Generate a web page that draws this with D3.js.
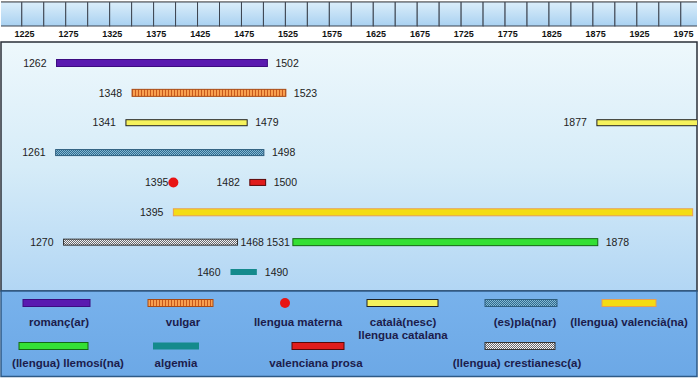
<!DOCTYPE html>
<html><head><meta charset="utf-8">
<script src="https://cdn.jsdelivr.net/npm/d3@7"></script>
<style>html,body{margin:0;padding:0;background:#fff;}svg{display:block;}</style>
</head><body>
<svg id="c" width="700" height="378"></svg>
<script>
// ---- data ----
const tickYears = [1225,1275,1325,1375,1425,1475,1525,1575,1625,1675,1725,1775,1825,1875,1925,1975];
const terms = ["romanç(ar)","vulgar","llengua materna","català(nesc)|llengua catalana","(es)pla(nar)","(llengua) valencià(na)","(llengua) llemosí(na)","algemia","valenciana prosa","(llengua) crestianesc(a)"];
const termKind = ["bar","bar","dot","bar","bar","bar","bar","bar","bar","bar"];
// spans: term index, row, start year, end year (end label hidden = still in use)
const spanTerm  = [0,1,3,3,4,2,8,5,9,6,7];
const spanRow   = [0,1,2,2,3,4,4,5,6,6,7];
const spanStart = [1262,1348,1341,1877,1261,1395,1482,1395,1270,1531,1460];
const spanEnd   = [1502,1523,1479,2010,1498,1395,1500,1986,1468,1878,1490];
const spanEndLabel = [true,true,true,false,true,false,true,false,true,true,true];

// ---- styles / layout ----
const W=700,H=378;
const svg=d3.select("#c");
const defs=svg.append("defs");
const x=d3.scaleLinear().domain([1225,1975]).range([24,683]);
const rowY=d3.scaleLinear().domain([0,7]).range([63,272]);
const panel={x0:1,x1:697,y0:42,y1:291};
const font="Liberation Sans, Arial, sans-serif";

function grad(id,stops){const g=defs.append("linearGradient").attr("id",id).attr("x1",0).attr("y1",0).attr("x2",0).attr("y2",1);
 stops.forEach(s=>g.append("stop").attr("offset",s[0]).attr("stop-color",s[1]));}
grad("bgMain",[[0,"#eef8fc"],[0.5,"#d6ecf8"],[1,"#b2d6f4"]]);
grad("bgCell",[[0,"#dbeefa"],[1,"#a9d1f1"]]);
grad("bgLeg",[[0,"#78b2ec"],[1,"#6ca8e6"]]);

const pv=defs.append("pattern").attr("id","pVulgar").attr("width",3).attr("height",8).attr("patternUnits","userSpaceOnUse");
pv.append("rect").attr("width",3).attr("height",8).attr("fill","#f8a050");
pv.append("rect").attr("width",1).attr("height",8).attr("fill","#c8581c");
function checker(id,a,b){const p=defs.append("pattern").attr("id",id).attr("width",2).attr("height",2).attr("patternUnits","userSpaceOnUse");
 p.append("rect").attr("width",2).attr("height",2).attr("fill",a);
 p.append("rect").attr("width",1).attr("height",1).attr("fill",b);
 p.append("rect").attr("x",1).attr("y",1).attr("width",1).attr("height",1).attr("fill",b);}
checker("pEspla","#2f6c90","#86b8d2");
checker("pCrest","#6a6a70","#f4f4f4");

const termStyle=[
 {fill:"#5a1ab0",stroke:"#3c0c80",h:7},
 {fill:"url(#pVulgar)",stroke:"#a84a14",h:7},
 {fill:"#e81414",stroke:"#c00",r:5},
 {fill:"#f6f25c",stroke:"#222",h:6},
 {fill:"url(#pEspla)",stroke:"#2e5e7e",h:6},
 {fill:"#f4dc14",stroke:"#e8a050",h:7},
 {fill:"#34e034",stroke:"#146814",h:7},
 {fill:"#148a8c",stroke:"none",h:6},
 {fill:"#e01c1c",stroke:"#5a0808",h:6},
 {fill:"url(#pCrest)",stroke:"#333",h:6}
];

// ---- top ruler ----
const cellEdges=d3.range(0,33).map(k=>1197.5+25*k);
const ruler=svg.append("g");
ruler.selectAll("rect").data(cellEdges).join("rect")
 .attr("x",d=>x(d)).attr("y",2).attr("width",x(1225)-x(1200)).attr("height",24)
 .attr("fill","url(#bgCell)").attr("stroke","#3c4450").attr("stroke-width",1);
ruler.append("rect").attr("x",697).attr("y",0).attr("width",3).attr("height",30).attr("fill","#fff");
ruler.append("rect").attr("x",0).attr("y",0).attr("width",1).attr("height",30).attr("fill","#fff");
ruler.append("line").attr("x1",1).attr("x2",697).attr("y1",1.5).attr("y2",1.5).attr("stroke","#888");
const axis=d3.axisTop(x).tickValues(tickYears).tickFormat(d3.format("d")).tickSize(0).tickPadding(0);
const ax=svg.append("g").attr("transform","translate(0,37)").call(axis);
ax.select(".domain").remove();
ax.selectAll("text").attr("font-family",font).attr("font-size",9).attr("font-weight","bold").attr("fill","#111");

// ---- main panel ----
svg.append("rect").attr("x",panel.x0).attr("y",panel.y0).attr("width",panel.x1-panel.x0).attr("height",panel.y1-panel.y0)
 .attr("fill","url(#bgMain)").attr("stroke","#2a2f38").attr("stroke-width",1.5);
defs.append("clipPath").attr("id","clipP").append("rect").attr("x",panel.x0).attr("y",panel.y0).attr("width",panel.x1-panel.x0).attr("height",panel.y1-panel.y0);

const spans=spanTerm.map((t,i)=>({t,row:spanRow[i],s:spanStart[i],e:spanEnd[i],el:spanEndLabel[i],sg:10,eg:8}));
// label collision: neighbouring spans on a row with little room get tight label gaps
const labW=24;
d3.groups(spans,d=>d.row).forEach(([r,arr])=>{
 arr.sort((a,b)=>a.s-b.s);
 for(let i=1;i<arr.length;i++){
  const p=arr[i-1],c=arr[i];
  if(p.el && termKind[c.t]!=="dot"){
   const room=x(c.s)-x(p.e);
   if(room < 2*labW+p.eg+c.sg+4){p.eg=3;c.sg=3;}
  }
 }
});
const g=svg.append("g").attr("clip-path","url(#clipP)");
spans.forEach(d=>{
 const st=termStyle[d.t], y=rowY(d.row);
 if(termKind[d.t]==="dot"){
  g.append("circle").attr("cx",x(d.s)).attr("cy",y).attr("r",st.r).attr("fill",st.fill);
  g.append("text").attr("x",x(d.s)-st.r).attr("y",y).attr("dy","0.35em").attr("text-anchor","end")
   .attr("font-family",font).attr("font-size",10.5).attr("fill","#222").text(d.s);
  return;
 }
 g.append("rect").attr("x",x(d.s)).attr("y",y-st.h/2).attr("width",x(d.e)-x(d.s)).attr("height",st.h)
  .attr("fill",st.fill).attr("stroke",st.stroke).attr("stroke-width",1);
 g.append("text").attr("x",x(d.s)-d.sg).attr("y",y).attr("dy","0.35em").attr("text-anchor","end")
  .attr("font-family",font).attr("font-size",10.5).attr("fill","#222").text(d.s);
 if(d.el) g.append("text").attr("x",x(d.e)+d.eg).attr("y",y).attr("dy","0.35em").attr("text-anchor","start")
  .attr("font-family",font).attr("font-size",10.5).attr("fill","#222").text(d.e);
});

// ---- legend ----
svg.append("rect").attr("x",panel.x0).attr("y",panel.y1).attr("width",panel.x1-panel.x0).attr("height",H-panel.y1-1.5)
 .attr("fill","url(#bgLeg)").attr("stroke","#2e5a86").attr("stroke-width",1.5);
// legend layout: [swatch x0, swatch x1, swatch y, label center x, label y]
const legLayout=[
 [23,90,303,59,322],[148,213,303,183,322],[285,285,303,298,322],[367,438,303,403,322],[485,557,303,525,322],[602,656,303,629,322],
 [19,88,346,68,363],[153,199,346,176,363],[292,344,346,316,363],[485,555,346,517,363]
];
const lg=svg.append("g");
terms.forEach((name,i)=>{
 const L=legLayout[i], st=termStyle[i];
 if(termKind[i]==="dot") lg.append("circle").attr("cx",L[0]).attr("cy",L[2]).attr("r",st.r).attr("fill",st.fill);
 else lg.append("rect").attr("x",L[0]).attr("y",L[2]-3.5).attr("width",L[1]-L[0]).attr("height",7)
   .attr("fill",st.fill).attr("stroke",st.stroke).attr("stroke-width",1);
 const t=lg.append("text").attr("x",L[3]).attr("y",L[4]).attr("text-anchor","middle")
  .attr("font-family",font).attr("font-size",11.5).attr("font-weight","bold").attr("fill","#1c1c4c");
 name.split("|").forEach((ln,j)=>t.append("tspan").attr("x",L[3]).attr("dy",j===0?"0.35em":"1.15em").text(ln));
});
</script>
</body></html>
